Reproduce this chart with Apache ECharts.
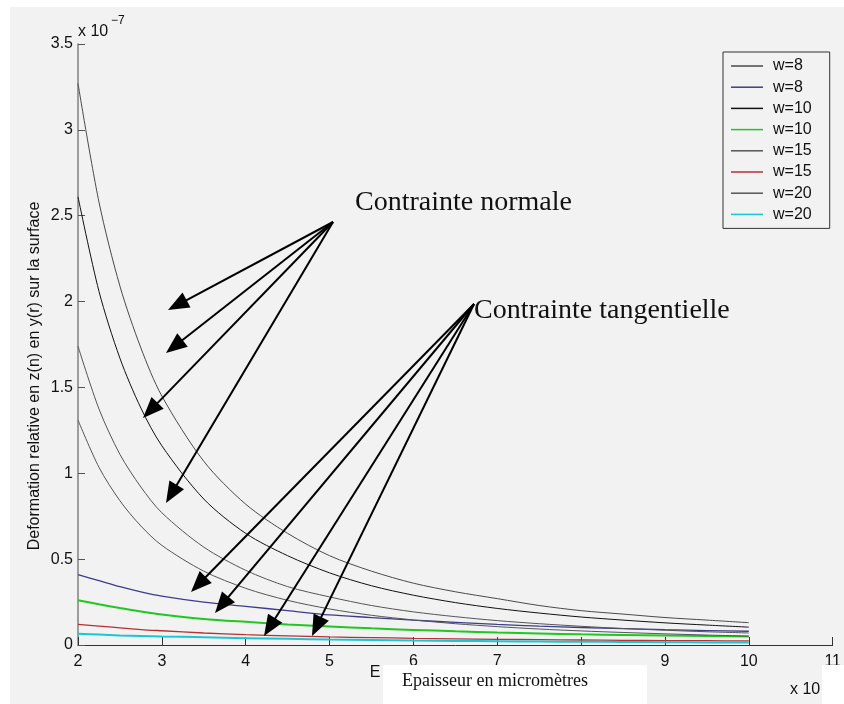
<!DOCTYPE html>
<html><head><meta charset="utf-8">
<script src="https://cdn.jsdelivr.net/npm/echarts@6/dist/echarts.min.js"></script>
<style>html,body{margin:0;padding:0;background:#fff}#c{width:844px;height:704px}</style>
</head><body><div id="c"></div>
<script>
// Epaisseur (x 10^?) sampling points
const xs = [2,2.25,2.5,2.75,3,3.5,4,4.5,5,5.5,6,6.5,7,7.5,8,8.5,9,9.5,10];
// Contrainte normale (x 1e-7)
const normalW8  = [3.27,2.58,2.09,1.73,1.45,1.07,0.82,0.65,0.52,0.43,0.36,0.31,0.27,0.23,0.20,0.18,0.16,0.145,0.13];
const normalW10 = [2.61,2.06,1.67,1.38,1.16,0.85,0.65,0.52,0.42,0.345,0.29,0.247,0.213,0.186,0.163,0.145,0.129,0.116,0.104];
const normalW15 = [1.74,1.375,1.11,0.92,0.77,0.57,0.435,0.34,0.28,0.23,0.193,0.165,0.142,0.124,0.109,0.096,0.086,0.077,0.07];
const normalW20 = [1.31,1.035,0.84,0.693,0.58,0.43,0.33,0.26,0.21,0.173,0.146,0.124,0.107,0.093,0.082,0.073,0.065,0.058,0.052];
// Contrainte tangentielle (x 1e-7)
const tangW8  = [0.41,0.375,0.34,0.31,0.285,0.25,0.225,0.2,0.175,0.16,0.145,0.132,0.12,0.11,0.102,0.095,0.089,0.084,0.08];
const tangW10 = [0.26,0.237,0.215,0.195,0.178,0.152,0.135,0.12,0.108,0.097,0.088,0.08,0.073,0.067,0.062,0.058,0.055,0.052,0.05];
const tangW15 = [0.12,0.11,0.1,0.09,0.083,0.07,0.06,0.053,0.047,0.043,0.039,0.036,0.033,0.031,0.029,0.027,0.026,0.025,0.024];
const tangW20 = [0.066,0.061,0.056,0.053,0.05,0.045,0.04,0.036,0.032,0.029,0.026,0.024,0.022,0.02,0.019,0.018,0.016,0.015,0.014];

const legendNames = ['w=8','w=8 ','w=10','w=10 ','w=15','w=15 ','w=20','w=20 '];
const seriesData = [normalW8, tangW8, normalW10, tangW10, normalW15, tangW15, normalW20, tangW20];
const seriesColors = ['#4a4a4a','#3c3c8e','#111111','#1fc81f','#555555','#b83030','#555555','#18c6d6'];
const seriesWidths = [1,1.3,1,2,1,1.3,1,2];

const yTicks = {min:0, max:3.5, step:0.5};
const xTicks = {min:2, max:11, step:1};

// annotation arrows (pixel layout)
const arrowsNormal = {from:[333,222], tips:[[168,310],[166,353],[143,418],[166,503]]};
const arrowsTang = {from:[474,304], tips:[[191,592],[215,613],[264,636],[312,636]]};

function arrowGraphics(group){
  const out=[];
  group.tips.forEach(t=>{
    const s=group.from;
    const dx=t[0]-s[0], dy=t[1]-s[1];
    const len=Math.sqrt(dx*dx+dy*dy);
    const ux=dx/len, uy=dy/len, nx=-uy, ny=ux;
    const L=21, W=17;
    const bx=t[0]-ux*L, by=t[1]-uy*L;
    out.push({type:'line', z:50, shape:{x1:s[0],y1:s[1],x2:bx+ux*2,y2:by+uy*2}, style:{stroke:'#000',lineWidth:2}});
    out.push({type:'polygon', z:50, shape:{points:[[t[0],t[1]],[bx+nx*W/2,by+ny*W/2],[bx-nx*W/2,by-ny*W/2]]}, style:{fill:'#000'}});
  });
  return out;
}

const chart = echarts.init(document.getElementById('c'));
const sans = 'Liberation Sans, Arial, Helvetica, sans-serif';
const serif = 'Liberation Serif, Times New Roman, serif';

const graphics = [
  {type:'rect', z:0, shape:{x:0,y:0,width:844,height:7}, style:{fill:'#fff'}},
  {type:'rect', z:0, shape:{x:0,y:0,width:10,height:704}, style:{fill:'#fff'}},
  {type:'text', z:10, x:78, y:32, style:{text:'x 10', font:'16px '+sans, fill:'#111', textVerticalAlign:'middle'}},
  {type:'text', z:10, x:111, y:21, style:{text:'−7', font:'12px '+sans, fill:'#111', textVerticalAlign:'middle'}},
  {type:'text', z:10, x:35, y:376, rotation:Math.PI/2, style:{text:'Deformation relative en z(n) en y(r) sur la surface', font:'16px '+sans, fill:'#111', textAlign:'center', textVerticalAlign:'middle'}},
  {type:'text', z:10, x:375, y:673, style:{text:'E', font:'16px '+sans, fill:'#111', textAlign:'center', textVerticalAlign:'middle'}},
  {type:'text', z:10, x:790, y:690, style:{text:'x 10', font:'16px '+sans, fill:'#111', textVerticalAlign:'middle'}},
  {type:'rect', z:20, shape:{x:383,y:665,width:264,height:39}, style:{fill:'#fff'}},
  {type:'rect', z:20, shape:{x:822,y:665,width:22,height:39}, style:{fill:'#fff'}},
  {type:'text', z:21, x:402, y:681, style:{text:'Epaisseur en micromètres', font:'18px '+serif, fill:'#111', textVerticalAlign:'middle'}},
  {type:'text', z:21, x:355, y:203, style:{text:'Contrainte normale', font:'28px '+serif, fill:'#111', textVerticalAlign:'middle'}},
  {type:'text', z:21, x:474, y:311, style:{text:'Contrainte tangentielle', font:'28px '+serif, fill:'#111', textVerticalAlign:'middle'}}
].concat(arrowGraphics(arrowsNormal), arrowGraphics(arrowsTang));

chart.setOption({
  backgroundColor:'#f2f2f2',
  animation:false,
  grid:{left:78, right:6, top:44, bottom:59, containLabel:false},
  xAxis:{type:'value', min:xTicks.min, max:xTicks.max, interval:xTicks.step,
    axisLine:{show:true, onZero:false, lineStyle:{color:'#333', width:1}},
    axisTick:{show:true, inside:true, length:8, lineStyle:{color:'#333'}},
    axisLabel:{color:'#111', fontSize:16, fontFamily:sans, margin:9},
    splitLine:{show:false}},
  yAxis:{type:'value', min:yTicks.min, max:yTicks.max, interval:yTicks.step,
    axisLine:{show:true, onZero:false, lineStyle:{color:'#808080', width:1.5}},
    axisTick:{show:true, inside:true, length:7, lineStyle:{color:'#555'}},
    axisLabel:{color:'#111', fontSize:16, fontFamily:sans, margin:5},
    splitLine:{show:false}},
  legend:{orient:'vertical', left:723, top:52, padding:[6,18,6,8], icon:'rect', itemWidth:32, itemHeight:1.5, itemGap:5.2,
    borderColor:'#333', borderWidth:1, backgroundColor:'#f2f2f2',
    data:legendNames, formatter:n=>n.trim(),
    textStyle:{color:'#111', fontSize:16, fontFamily:sans, padding:[0,0,0,5]}},
  graphic:graphics,
  series: legendNames.map((n,i)=>({
    name:n, type:'line', symbol:'none', smooth:0.3,
    data: xs.map((x,j)=>[x, seriesData[i][j]]),
    lineStyle:{color:seriesColors[i], width:seriesWidths[i]},
    itemStyle:{color:seriesColors[i]}
  }))
});
</script></body></html>
